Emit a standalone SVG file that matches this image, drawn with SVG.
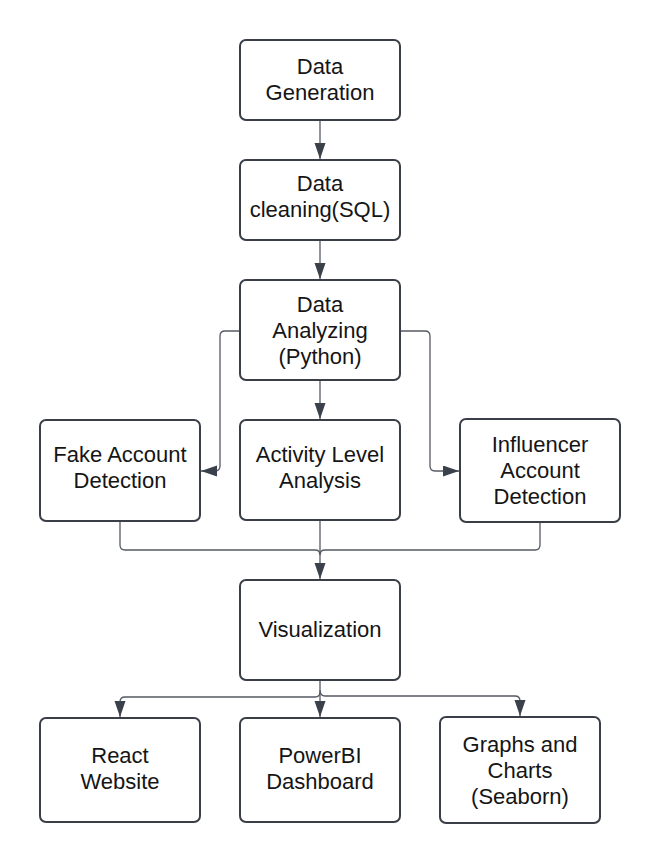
<svg xmlns="http://www.w3.org/2000/svg" width="660" height="863" viewBox="0 0 660 863">
<style>
.box{fill:#fff;stroke:#3a3f47;stroke-width:2}
.lbl{font-family:"Liberation Sans",Arial,sans-serif;font-size:22px;fill:#151515;text-anchor:middle}
.con{fill:none;stroke:#555a62;stroke-width:1.3}
</style>
<defs>
<marker id="ah" markerUnits="userSpaceOnUse" markerWidth="17" markerHeight="12" refX="16" refY="5.5" orient="auto">
<path d="M0,0 L16,5.5 L0,11 z" fill="#3a414a"/>
</marker>
</defs>
<rect width="660" height="863" fill="#fff"/>
<g id="connectors">
<path class="con" d="M320,121 V159" marker-end="url(#ah)"/>
<path class="con" d="M320,241 V279" marker-end="url(#ah)"/>
<path class="con" d="M320,381 V419" marker-end="url(#ah)"/>
<path class="con" d="M239,331 H225 Q220,331 220,336 V466 Q220,471 215,471 H201" marker-end="url(#ah)"/>
<path class="con" d="M401,331 H425 Q430,331 430,336 V466 Q430,471 435,471 H459" marker-end="url(#ah)"/>
<path class="con" d="M320,521 V579" marker-end="url(#ah)"/>
<path class="con" d="M120,522 V545 Q120,550 125,550 H315 Q320,550 320,555"/>
<path class="con" d="M540,523 V545 Q540,550 535,550 H325 Q320,550 320,555"/>
<path class="con" d="M320,681 V692 Q320,697 315,697 H125 Q120,697 120,702 V717" marker-end="url(#ah)"/>
<path class="con" d="M320,692 V717" marker-end="url(#ah)"/>
<path class="con" d="M320,690 Q320,696 325,696 H515 Q520,696 520,701 V716" marker-end="url(#ah)"/>
</g>
<g id="n1"><rect class="box" x="240" y="40" width="160" height="80" rx="6"/><text class="lbl" x="320" y="73.5">Data</text><text class="lbl" x="320" y="99.5">Generation</text></g>
<g id="n2"><rect class="box" x="240" y="160" width="160" height="80" rx="6"/><text class="lbl" x="320" y="191">Data</text><text class="lbl" x="320" y="217">cleaning(SQL)</text></g>
<g id="n3"><rect class="box" x="240" y="280" width="160" height="100" rx="6"/><text class="lbl" x="320" y="311.5">Data</text><text class="lbl" x="320" y="337.5">Analyzing</text><text class="lbl" x="320" y="363.5">(Python)</text></g>
<g id="n4"><rect class="box" x="40" y="420" width="160" height="101" rx="6"/><text class="lbl" x="120" y="461.5">Fake Account</text><text class="lbl" x="120" y="488">Detection</text></g>
<g id="n5"><rect class="box" x="240" y="420" width="160" height="100" rx="6"/><text class="lbl" x="320" y="461.5">Activity Level</text><text class="lbl" x="320" y="488">Analysis</text></g>
<g id="n6"><rect class="box" x="460" y="419" width="160" height="103" rx="6"/><text class="lbl" x="540" y="451.5">Influencer</text><text class="lbl" x="540" y="477.5">Account</text><text class="lbl" x="540" y="504">Detection</text></g>
<g id="n7"><rect class="box" x="240" y="580" width="160" height="100" rx="6"/><text class="lbl" x="320" y="637">Visualization</text></g>
<g id="n8"><rect class="box" x="40" y="718" width="160" height="104" rx="6"/><text class="lbl" x="120" y="763">React</text><text class="lbl" x="120" y="789">Website</text></g>
<g id="n9"><rect class="box" x="240" y="718" width="160" height="104" rx="6"/><text class="lbl" x="320" y="763">PowerBI</text><text class="lbl" x="320" y="789">Dashboard</text></g>
<g id="n10"><rect class="box" x="440" y="717" width="160" height="106" rx="6"/><text class="lbl" x="520" y="752">Graphs and</text><text class="lbl" x="520" y="778">Charts</text><text class="lbl" x="520" y="804">(Seaborn)</text></g>
</svg>
